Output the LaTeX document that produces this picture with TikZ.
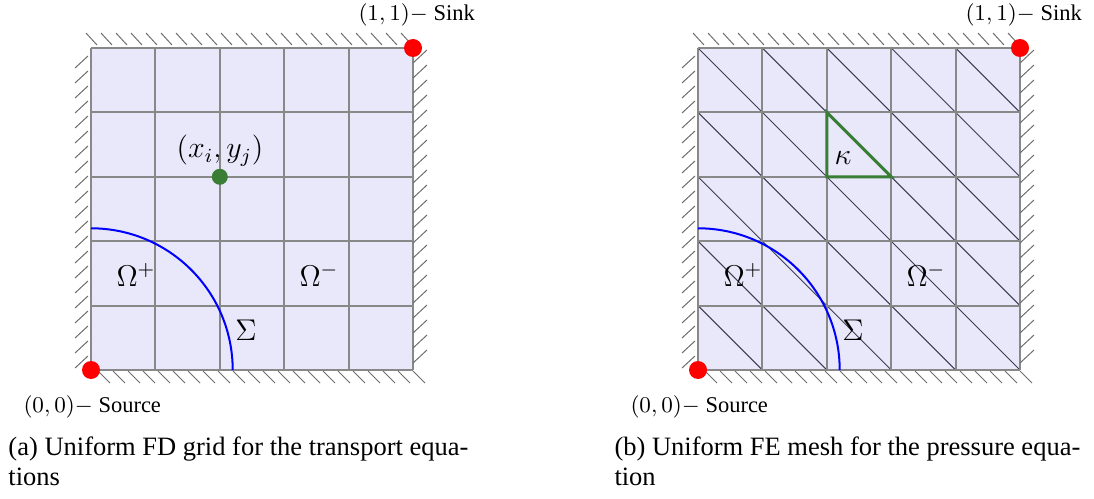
\documentclass[tikz,border=0pt]{standalone}
\usepackage{fontspec}
\setmainfont{Liberation Serif}
\definecolor{lav}{RGB}{232,232,250}
\definecolor{gridc}{RGB}{136,136,136}
\definecolor{hatchc}{RGB}{110,110,110}
\definecolor{diagc}{RGB}{60,60,80}
\definecolor{dotgreen}{RGB}{58,125,52}
\tikzset{
  gridl/.style={draw=gridc,line width=0.8pt},
  hatchl/.style={draw=hatchc,line width=0.4pt},
  diagl/.style={draw=diagc,line width=0.4pt},
  arcl/.style={draw=blue,line width=0.8pt},
  reddot/.style={circle,fill=red,inner sep=0pt,minimum size=7.2pt},
  greendot/.style={circle,fill=dotgreen,inner sep=0pt,minimum size=6.4pt},
  biglab/.style={font=\large,inner sep=0pt},
  smalllab/.style={font=\small,inner sep=0pt,anchor=base west},
  caplab/.style={font=\fontsize{10.6}{12}\selectfont,inner sep=0pt,anchor=base west},
}
\newcommand{\panelbase}{%
  \fill[lav] (91,48) rectangle (413,370);
}
\newcommand{\panelgrid}{%
  \foreach \i in {0,...,5} {
    \draw[gridl] (91+\i*64.4,48) -- (91+\i*64.4,370);
    \draw[gridl] (91,48+\i*64.4) -- (413,48+\i*64.4);
  }
  \foreach \k in {0,...,21} \draw[hatchl] (86+\k*15,33) -- ++(11,12);
  \foreach \k in {0,...,20} \draw[hatchl] (75,68+\k*15) -- ++(13,-12);
  \foreach \k in {0,...,20} \draw[hatchl] (413,63+\k*15) -- ++(14,-13);
  \foreach \k in {0,...,21} \draw[hatchl] (98+\k*15,371) -- ++(12,12);
  \draw[arcl] (232.7,370) arc[start angle=0,end angle=90,radius=56.68pt];
}
\begin{document}
\begin{tikzpicture}[x=0.4pt,y=-0.4pt]
\useasboundingbox (0,0) rectangle (1094,499);
% ---- panel (a)
\panelbase
\panelgrid
\node[reddot] (srcA) at (91,370) {};
\node[reddot] (sinkA) at (413,48) {};
\node[greendot] (pt) at (219.8,176.8) {};
\node[biglab,anchor=base] (ptlab) at (220,158) {$(x_i,y_j)$};
\node[biglab] (omPA) at (136,275) {$\Omega^{+}$};
\node[biglab] (omMA) at (319,275) {$\Omega^{-}$};
\node[biglab] (sigA) at (246,330) {$\Sigma$};
\node[smalllab] (sinkAlab) at (358,21) {$(1,1)-$ Sink};
\node[smalllab] (srcAlab) at (23,412) {$(0,0)-$ Source};
\node[caplab] (capA) at (8,455) {(a) Uniform FD grid for the transport equa-};
\node[caplab] (capA2) at (8,485) {tions};
% ---- panel (b)
\begin{scope}[shift={(607,0)}]
\panelbase
\foreach \i in {0,...,4} \foreach \j in {0,...,4}
  \draw[diagl] (91+\i*64.4,48+\j*64.4) -- ++(64.4,64.4);
\panelgrid
\draw[draw=dotgreen,line width=1.2pt,line join=miter] (219.8,112.4) -- (219.8,176.8) -- (284.2,176.8) -- cycle;
\node[reddot] (srcB) at (91,370) {};
\node[reddot] (sinkB) at (413,48) {};
\node[biglab] (kap) at (236,158) {$\kappa$};
\node[biglab] (omPB) at (136,275) {$\Omega^{+}$};
\node[biglab] (omMB) at (319,275) {$\Omega^{-}$};
\node[biglab] (sigB) at (246,330) {$\Sigma$};
\node[smalllab] (sinkBlab) at (358,21) {$(1,1)-$ Sink};
\node[smalllab] (srcBlab) at (23,412) {$(0,0)-$ Source};
\node[caplab] (capB) at (7,455) {(b) Uniform FE mesh for the pressure equa-};
\node[caplab] (capB2) at (7,485) {tion};
\end{scope}
\end{tikzpicture}
\end{document}
